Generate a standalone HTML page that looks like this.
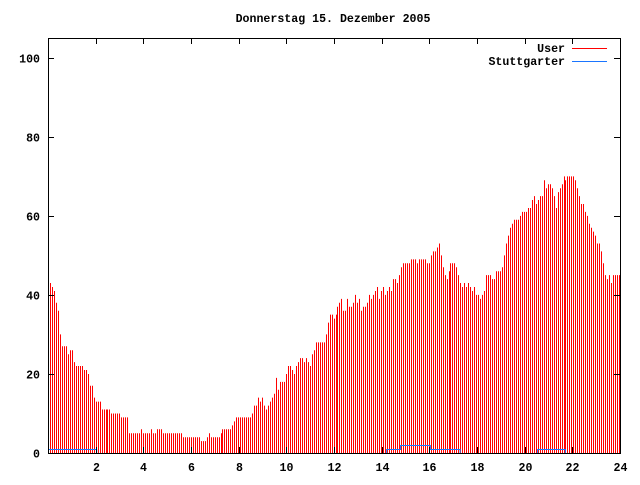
<!DOCTYPE html>
<html><head><meta charset="utf-8"><style>
body{margin:0;background:#fff}
svg text{font-family:"Liberation Mono",monospace;font-weight:bold;font-size:11.6px;fill:#000}
</style></head><body>
<svg id="chart" width="640" height="480" xmlns="http://www.w3.org/2000/svg">
<text x="333" y="22" text-anchor="middle">Donnerstag 15. Dezember 2005</text>
<g id="bars"></g>
<g id="axes"></g>
<g>
<text x="565" y="52" text-anchor="end">User</text>
<line x1="572" y1="48.5" x2="607" y2="48.5" stroke="#ff0000" stroke-width="1"/>
<text x="565" y="65" text-anchor="end">Stuttgarter</text>
<line x1="572" y1="61.5" x2="607" y2="61.5" stroke="#1a75ff" stroke-width="1"/>
</g>
</svg>
<script>
const userValues=[
43,42,41,38,36,30,27,27,27,25,26,26,
23,22,22,22,22,21,21,20,17,17,14,13,
13,13,11,11,11,11,11,10,10,10,10,10,
9,9,9,9,5,5,5,5,5,5,6,5,
5,5,5,6,5,5,6,6,6,5,5,5,
5,5,5,5,5,5,5,4,4,4,4,4,
4,4,4,4,3,3,3,4,5,4,4,4,
4,4,5,6,6,6,6,6,7,8,9,9,
9,9,9,9,9,9,10,12,12,14,13,14,
12,11,12,13,14,15,19,16,18,18,18,20,
22,22,21,20,22,23,24,24,23,24,23,22,
25,26,28,28,28,28,28,30,33,35,35,34,
35,37,38,39,36,36,39,37,37,38,40,38,
39,36,37,37,38,40,39,40,41,42,39,41,
42,40,41,42,41,44,44,43,45,47,48,48,
48,48,49,49,49,48,49,49,49,49,48,48,
50,51,51,52,53,50,47,45,44,46,48,48,
48,47,45,43,42,43,42,43,42,41,42,40,
40,39,40,41,45,45,45,44,44,46,46,46,
47,50,53,55,57,58,59,59,59,60,61,61,
61,62,62,64,65,63,64,65,65,69,67,68,
68,67,65,62,66,67,68,70,69,70,70,70,
70,69,67,65,63,63,61,60,58,57,56,55,
53,53,51,48,45,44,45,43,45,45,45,45];
const stuttValues=[
1,1,1,1,1,1,1,1,1,1,1,1,
1,1,1,1,1,1,1,1,1,1,1,1,
0,0,0,0,0,0,0,0,0,0,0,0,
0,0,0,0,0,0,0,0,0,0,0,0,
0,0,0,0,0,0,0,0,0,0,0,0,
0,0,0,0,0,0,0,0,0,0,0,0,
0,0,0,0,0,0,0,0,0,0,0,0,
0,0,0,0,0,0,0,0,0,0,0,0,
0,0,0,0,0,0,0,0,0,0,0,0,
0,0,0,0,0,0,0,0,0,0,0,0,
0,0,0,0,0,0,0,0,0,0,0,0,
0,0,0,0,0,0,0,0,0,0,0,0,
0,0,0,0,0,0,0,0,0,0,0,0,
0,0,0,0,0,0,0,0,0,0,0,0,
0,0,1,1,1,1,1,1,1,2,2,2,
2,2,2,2,2,2,2,2,2,2,2,2,
1,1,1,1,1,1,1,1,1,1,1,1,
1,1,1,0,0,0,0,0,0,0,0,0,
0,0,0,0,0,0,0,0,0,0,0,0,
0,0,0,0,0,0,0,0,0,0,0,0,
0,0,0,0,0,0,1,1,1,1,1,1,
1,1,1,1,1,1,1,1,0,0,0,0,
0,0,0,0,0,0,0,0,0,0,0,0,
0,0,0,0,0,0,0,0,0,0,0,0];
const xTicks=[2,4,6,8,10,12,14,16,18,20,22,24];
const yTicks=[0,20,40,60,80,100];
const L=48,R=620,T=38,B=453,YMAX=105,XMAX=24;
const xs=h=>L+h*(R-L)/XMAX;
const ys=v=>B-v*(B-T)/YMAX;
const barX=i=>L+2.5+i*(R-L-2.98)/(userValues.length-1);
const NS="http://www.w3.org/2000/svg";
const bars=document.getElementById('bars');
userValues.forEach((v,i)=>{
  const x=Math.floor(barX(i))+0.5;
  const l=document.createElementNS(NS,'line');
  
  
  l.setAttribute('x1',x);l.setAttribute('x2',x);
  l.setAttribute('y1',B);l.setAttribute('y2',ys(v));
  l.setAttribute('stroke','#ff0000');l.setAttribute('stroke-width','1');
  bars.appendChild(l);
});
let pts=[];
stuttValues.forEach((v,i)=>{pts.push(xs(i/12)+1+','+(Math.round(ys(v))+0.5));pts.push(xs((i+1)/12)+1+','+(Math.round(ys(v))+0.5));});
const pl=document.createElementNS(NS,'polyline');


pl.setAttribute('points',pts.join(' '));
pl.setAttribute('fill','none');pl.setAttribute('stroke','#1a75ff');pl.setAttribute('stroke-width','1');
bars.appendChild(pl);
const axes=document.getElementById('axes');
const fr=document.createElementNS(NS,'rect');


fr.setAttribute('x',L+0.5);fr.setAttribute('y',T+0.5);fr.setAttribute('width',R-L);fr.setAttribute('height',B-T);
fr.setAttribute('fill','none');fr.setAttribute('stroke','#000');
axes.appendChild(fr);
yTicks.forEach(v=>{
  const y=Math.round(ys(v))+0.5;
  [[L,L+6],[R-6,R]].forEach(([a,b])=>{
    const t=document.createElementNS(NS,'line');
    
    
    t.setAttribute('x1',a);t.setAttribute('x2',b);t.setAttribute('y1',y);t.setAttribute('y2',y);t.setAttribute('stroke','#000');
    axes.appendChild(t);
  });
  const tx=document.createElementNS(NS,'text');
  
  
  tx.setAttribute('x',L-8);tx.setAttribute('y',y+4);tx.setAttribute('text-anchor','end');tx.textContent=v;
  axes.appendChild(tx);
});
xTicks.forEach(h=>{
  const x=Math.round(xs(h))+0.5;
  [[B-6,B],[T,T+6]].forEach(([a,b])=>{
    const t=document.createElementNS(NS,'line');
    
    
    t.setAttribute('x1',x);t.setAttribute('x2',x);t.setAttribute('y1',a);t.setAttribute('y2',b);t.setAttribute('stroke','#000');
    axes.appendChild(t);
  });
  const tx=document.createElementNS(NS,'text');
  
  
  tx.setAttribute('x',x);tx.setAttribute('y',471);tx.setAttribute('text-anchor','middle');tx.textContent=h;
  axes.appendChild(tx);
});
</script>
</body></html>
